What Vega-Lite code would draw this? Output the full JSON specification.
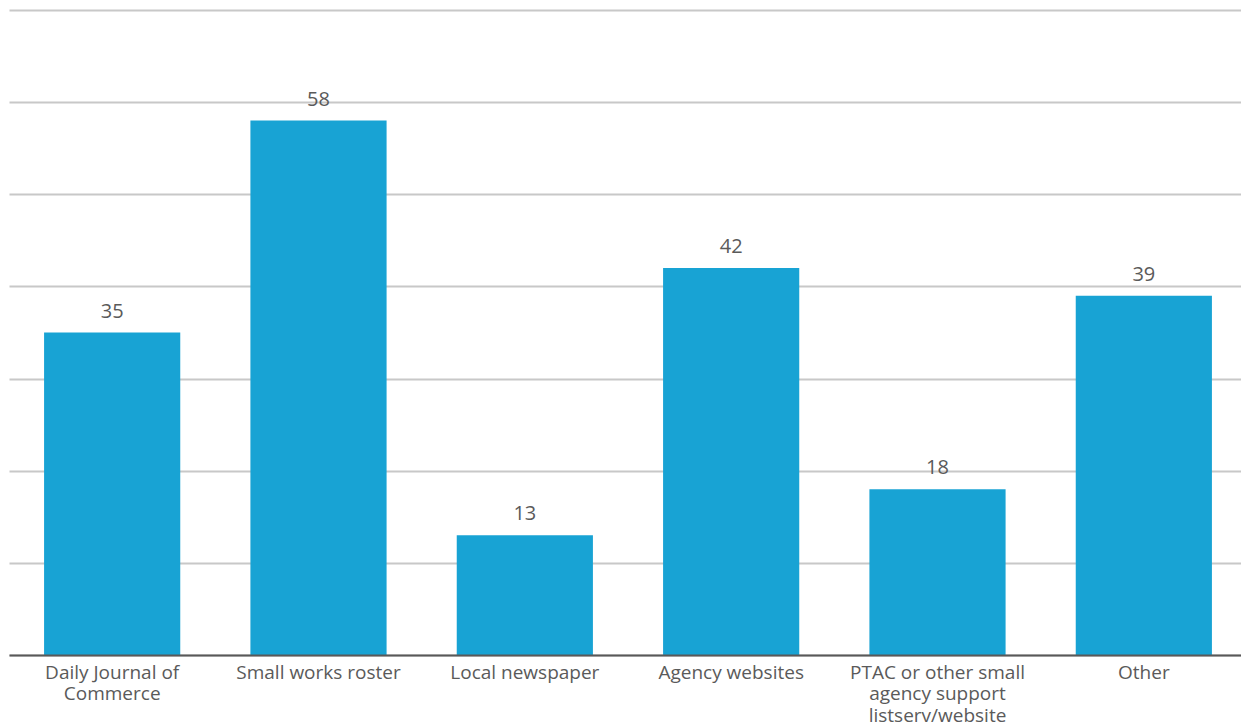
{
  "$schema": "https://vega.github.io/schema/vega-lite/v6.json",
  "autosize": {"type": "none"},
  "padding": {"left": 9, "top": 10, "right": 3, "bottom": 73},
  "width": 1238,
  "height": 645,
  "background": "white",
  "config": {
    "view": {"stroke": null},
    "font": "Open Sans"
  },
  "data": {
    "values": [
      {"source": "Daily Journal of Commerce", "count": 35},
      {"source": "Small works roster", "count": 58},
      {"source": "Local newspaper", "count": 13},
      {"source": "Agency websites", "count": 42},
      {"source": "PTAC or other small agency support listserv/website", "count": 18},
      {"source": "Other", "count": 39}
    ]
  },
  "encoding": {
    "x": {
      "field": "source",
      "type": "nominal",
      "sort": null,
      "scale": {"paddingInner": 0.34, "paddingOuter": 0.17},
      "axis": {
        "title": null,
        "labelAngle": 0,
        "labelFont": "Open Sans",
        "labelFontSize": 19,
        "labelColor": "#5a5a5a",
        "labelPadding": 8,
        "labelLineHeight": 21.5,
        "labelLimit": 300,
        "labelExpr": "datum.label == 'Daily Journal of Commerce' ? ['Daily Journal of', 'Commerce'] : datum.label == 'PTAC or other small agency support listserv/website' ? ['PTAC or other small', 'agency support', 'listserv/website'] : datum.label",
        "ticks": false,
        "domainColor": "#595959",
        "domainWidth": 2,
        "zindex": 1
      }
    },
    "y": {
      "field": "count",
      "type": "quantitative",
      "scale": {"domain": [0, 70], "nice": false},
      "axis": {
        "title": null,
        "labels": false,
        "ticks": false,
        "domain": false,
        "values": [0, 10, 20, 30, 40, 50, 60, 70],
        "gridColor": "#c8c8c8",
        "gridWidth": 2
      }
    }
  },
  "layer": [
    {"mark": {"type": "bar", "color": "#18a3d4"}},
    {
      "mark": {
        "type": "text",
        "baseline": "bottom",
        "dy": -11,
        "font": "Open Sans",
        "fontSize": 20,
        "color": "#5a5a5a"
      },
      "encoding": {"text": {"field": "count", "type": "quantitative"}}
    }
  ]
}
